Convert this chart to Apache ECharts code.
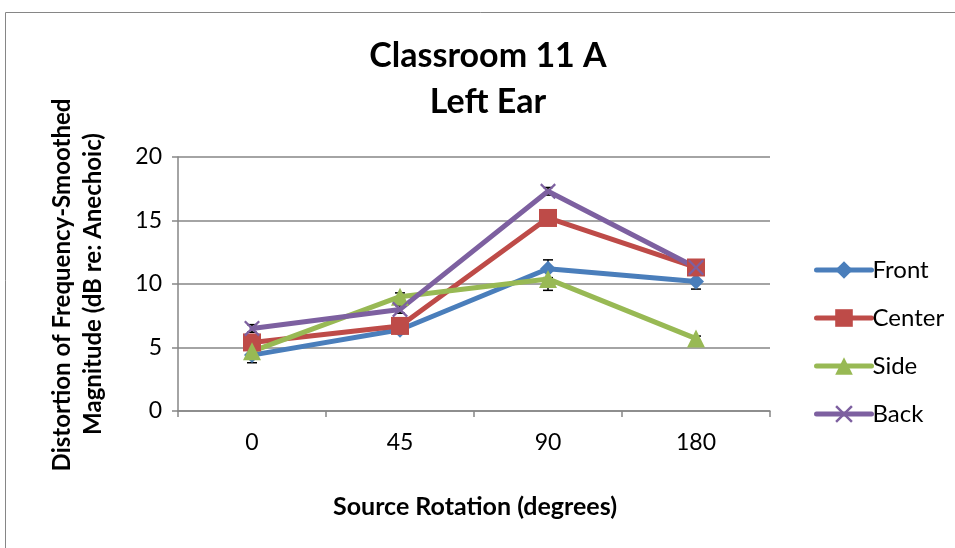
<!DOCTYPE html>
<html><head><meta charset="utf-8">
<script src="https://cdn.jsdelivr.net/npm/echarts@6/dist/echarts.min.js"></script>
<style>html,body{margin:0;padding:0;background:#fff}#c{width:955px;height:548px}</style>
</head><body><div id="c"></div>
<script>
const categories = ['0','45','90','180'];
const front  = [4.4, 6.4, 11.2, 10.2];
const center = [5.4, 6.7, 15.2, 11.3];
const side   = [4.7, 9.0, 10.4, 5.7];
const back   = [6.5, 8.0, 17.3, 11.3];
const errFront  = [0.6, 0.3, 0.7, 0.6];
const errCenter = [0.3, 0.3, 0.3, 0.3];
const errSide   = [0.3, 0.3, 0.9, 0.2];
const errBack   = [0.3, 0.3, 0.3, 0.3];
const yTicks = [0, 5, 10, 15, 20];

const FONT = 'Lato';
const colors = ['#4a7ebb', '#be4b48', '#98b954', '#7d60a0'];
const crossPath = 'path://M0,1L1,0L5,4L9,0L10,1L6,5L10,9L9,10L5,6L1,10L0,9L4,5Z';

function errSeries(vals, errs) {
  return {
    type: 'custom', silent: true, z: 1,
    data: vals.map((v, i) => [i, v - errs[i], v + errs[i]]),
    renderItem: function (params, api) {
      const lo = api.coord([api.value(0), api.value(1)]);
      const hi = api.coord([api.value(0), api.value(2)]);
      const w = 5;
      const st = { stroke: '#000', lineWidth: 1.5 };
      return { type: 'group', children: [
        { type: 'line', shape: { x1: lo[0], y1: lo[1], x2: hi[0], y2: hi[1] }, style: st },
        { type: 'line', shape: { x1: lo[0]-w, y1: lo[1], x2: lo[0]+w, y2: lo[1] }, style: st },
        { type: 'line', shape: { x1: hi[0]-w, y1: hi[1], x2: hi[0]+w, y2: hi[1] }, style: st }
      ]};
    }
  };
}
function lineSeries(name, vals, sym, size, color) {
  return {
    name: name, type: 'line', data: vals, symbol: sym, symbolSize: size, z: 3,
    lineStyle: { width: 5, color: color, cap: 'round' }, itemStyle: { color: color },
    emphasis: { disabled: true }
  };
}

const chart = echarts.init(document.getElementById('c'));
chart.setOption({
  animation: false,
  color: colors,
  graphic: [
    { type: 'rect', shape: { x: 5.5, y: 12.5, width: 960, height: 550 }, style: { fill: 'none', stroke: '#868686', lineWidth: 1 } },
    { type: 'text', x: 488, y: 56, style: { text: 'Classroom 11 A', fontFamily: FONT, fontSize: 34, fontWeight: 'bold', fill: '#000', align: 'center', verticalAlign: 'middle' } },
    { type: 'text', x: 488, y: 102, style: { text: 'Left Ear', fontFamily: FONT, fontSize: 34, fontWeight: 'bold', fill: '#000', align: 'center', verticalAlign: 'middle' } },
    { type: 'text', x: 62, y: 285, rotation: Math.PI / 2, style: { text: 'Distortion of Frequency-Smoothed', fontFamily: FONT, fontSize: 24, fontWeight: 'bold', fill: '#000', align: 'center', verticalAlign: 'middle' } },
    { type: 'text', x: 93, y: 284, rotation: Math.PI / 2, style: { text: 'Magnitude (dB re: Anechoic)', fontFamily: FONT, fontSize: 24, fontWeight: 'bold', fill: '#000', align: 'center', verticalAlign: 'middle' } },
    { type: 'text', x: 475, y: 507, style: { text: 'Source Rotation (degrees)', fontFamily: FONT, fontSize: 25, fontWeight: 'bold', fill: '#000', align: 'center', verticalAlign: 'middle' } }
  ],
  legend: {
    orient: 'vertical', left: 809, top: 253, itemGap: 24, itemWidth: 55, itemHeight: 22,
    textStyle: { fontFamily: FONT, fontSize: 24, color: '#000', padding: [0,0,0,-4] },
    lineStyle: { width: 5, cap: 'round' },
    data: ['Front', 'Center', 'Side', 'Back']
  },
  grid: { left: 178, right: 185, top: 157, bottom: 137 },
  xAxis: {
    type: 'category', data: categories, boundaryGap: true,
    axisLine: { lineStyle: { color: '#868686', width: 1.5 } },
    axisTick: { show: true, length: 6, lineStyle: { color: '#868686', width: 1.5 } },
    axisLabel: { fontFamily: FONT, fontSize: 23, color: '#000', margin: 20 }
  },
  yAxis: {
    type: 'value', min: yTicks[0], max: yTicks[yTicks.length - 1], interval: 5,
    axisLine: { show: true, lineStyle: { color: '#868686', width: 1.5 } },
    axisTick: { show: true, length: 6, lineStyle: { color: '#868686', width: 1.5 } },
    splitLine: { lineStyle: { color: '#868686', width: 1.5 } },
    axisLabel: { fontFamily: FONT, fontSize: 23, color: '#000', margin: 16 }
  },
  series: [
    errSeries(front, errFront), errSeries(center, errCenter), errSeries(side, errSide), errSeries(back, errBack),
    lineSeries('Front', front, 'diamond', 16, colors[0]),
    lineSeries('Center', center, 'rect', 18, colors[1]),
    lineSeries('Side', side, 'triangle', 18, colors[2]),
    lineSeries('Back', back, crossPath, 16, colors[3])
  ]
});
</script></body></html>
